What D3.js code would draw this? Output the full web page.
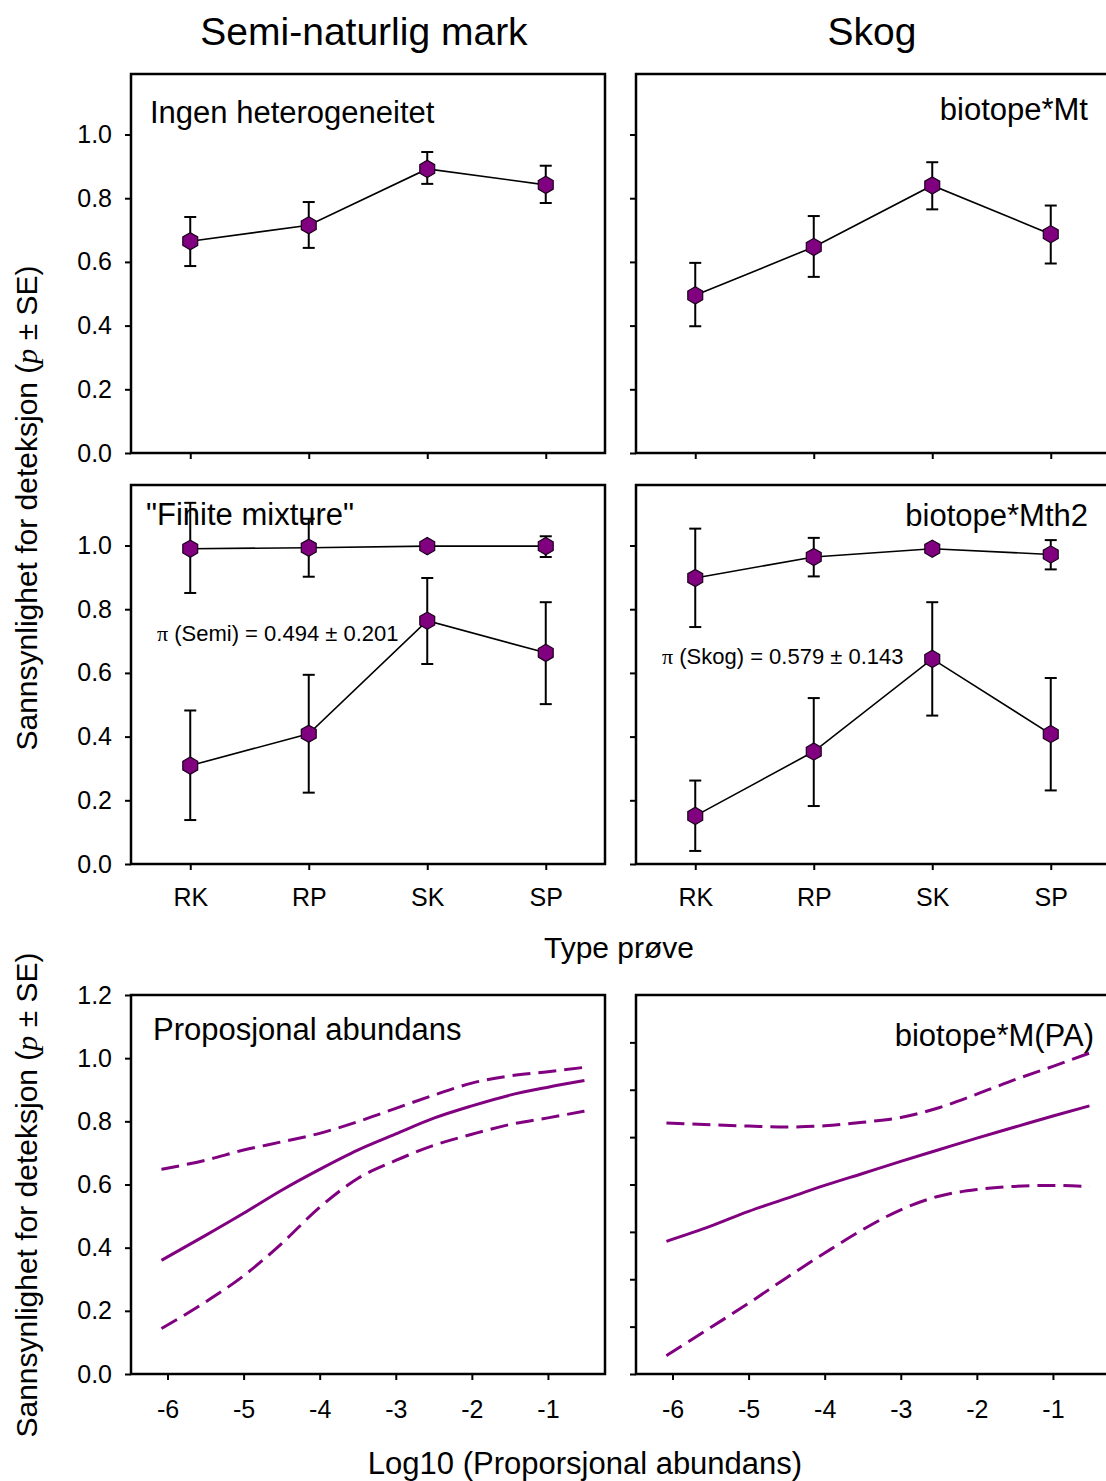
<!DOCTYPE html>
<html>
<head>
<meta charset="utf-8">
<script src="https://cdn.jsdelivr.net/npm/d3@7"></script>
<style>
  body { margin: 0; background: #fff; }
  svg { display: block; font-family: "Liberation Sans", Arial, sans-serif; }
</style>
</head>
<body>
<script>
// ---- data ----
var categories = ["RK", "RP", "SK", "SP"];

// top row: no heterogeneity model
var semiHetP  = [0.665, 0.715, 0.892, 0.842];
var semiHetLo = [0.587, 0.644, 0.845, 0.785];
var semiHetHi = [0.741, 0.788, 0.945, 0.902];
var skogMtP   = [0.495, 0.647, 0.840, 0.687];
var skogMtLo  = [0.398, 0.553, 0.765, 0.595];
var skogMtHi  = [0.597, 0.744, 0.913, 0.777];

// middle row: finite mixture, two groups each
var semiMixHighP  = [0.990, 0.993, 0.998, 0.998];
var semiMixHighLo = [0.851, 0.902, 0.993, 0.964];
var semiMixHighHi = [1.134, 1.084, 1.003, 1.029];
var semiMixLowP   = [0.309, 0.409, 0.764, 0.663];
var semiMixLowLo  = [0.138, 0.224, 0.628, 0.502];
var semiMixLowHi  = [0.482, 0.594, 0.898, 0.822];
var skogMixHighP  = [0.898, 0.964, 0.990, 0.972];
var skogMixHighLo = [0.744, 0.903, 0.986, 0.925];
var skogMixHighHi = [1.053, 1.024, 0.994, 1.017];
var skogMixLowP   = [0.151, 0.353, 0.644, 0.408];
var skogMixLowLo  = [0.041, 0.182, 0.466, 0.231];
var skogMixLowHi  = [0.262, 0.521, 0.822, 0.584];

var piSemi = "(Semi) = 0.494 \u00b1 0.201";
var piSkog = "(Skog) = 0.579 \u00b1 0.143";

// bottom row: proportional abundance curves
var logPA = [-6.08, -5.5, -5, -4.5, -4, -3.5, -3, -2.5, -2, -1.5, -1, -0.52];
var semiPA     = [0.360, 0.439, 0.509, 0.582, 0.648, 0.709, 0.760, 0.810, 0.849, 0.883, 0.908, 0.929];
var semiPAUp   = [0.648, 0.677, 0.709, 0.735, 0.762, 0.799, 0.841, 0.883, 0.921, 0.944, 0.957, 0.971];
var semiPALow  = [0.144, 0.228, 0.311, 0.413, 0.528, 0.619, 0.676, 0.724, 0.759, 0.790, 0.811, 0.832];
var skogPA     = [0.420, 0.468, 0.515, 0.556, 0.597, 0.635, 0.673, 0.710, 0.747, 0.782, 0.817, 0.849];
var skogPAUp   = [0.795, 0.789, 0.785, 0.782, 0.786, 0.797, 0.812, 0.843, 0.886, 0.932, 0.974, 1.016];
var skogPALow  = [0.058, 0.147, 0.224, 0.305, 0.383, 0.457, 0.520, 0.563, 0.584, 0.594, 0.597, 0.593];

var yTicks      = [0, 0.2, 0.4, 0.6, 0.8, 1.0];
var yTicksPA    = [0, 0.2, 0.4, 0.6, 0.8, 1.0, 1.2];
var yTicksPARight = [0, 0.15, 0.3, 0.45, 0.6, 0.75, 0.9, 1.05];
var xTicksPA    = [-6, -5, -4, -3, -2, -1];

// ---- layout ----
var W = 1106, H = 1481;
var colX = [131, 636];
var rowY = [74, 485, 995];
var pw = 474, ph = 379;
var purple = "#800080";

var svg = d3.select("body").append("svg")
  .attr("width", W)
  .attr("height", H);

function hexPath(r) {
  var pts = d3.range(6).map(function (i) {
    var a = Math.PI / 6 + i * Math.PI / 3;
    return [r * Math.cos(a), r * Math.sin(a)];
  });
  return "M" + pts.map(function (p) { return p[0].toFixed(2) + "," + p[1].toFixed(2); }).join("L") + "Z";
}

function styleAxis(g) {
  g.select(".domain").remove();
  g.selectAll(".tick line").attr("stroke", "#000").attr("stroke-width", 2);
  g.selectAll(".tick text").attr("fill", "#000").style("font-size", "25px")
    .style("font-family", "'Liberation Sans', Arial, sans-serif");
}

function box(g) {
  g.append("rect")
    .attr("x", 0).attr("y", 0)
    .attr("width", pw).attr("height", ph)
    .attr("fill", "none")
    .attr("stroke", "#000")
    .attr("stroke-width", 2.5);
}

function makePanel(col, row) {
  var x0 = colX[col], y0 = rowY[row];
  var g = svg.append("g").attr("transform", "translate(" + x0 + "," + y0 + ")");
  box(g);
  return g;
}

function panelLabel(g, text, anchor, x, y) {
  g.append("text")
    .attr("x", x).attr("y", y)
    .attr("text-anchor", anchor)
    .style("font-size", "31px")
    .attr("fill", "#000")
    .text(text);
}

function catPanel(col, row, series, label, labelRight, showYLabels, showXLabels) {
  var g = makePanel(col, row);
  var x = d3.scalePoint().domain(categories).range([0, pw]).padding(0.5);
  var y = d3.scaleLinear().domain([0, 1.19]).range([ph, 0]);

  var yAxis = d3.axisLeft(y).tickValues(yTicks).tickSize(6).tickPadding(13)
    .tickFormat(showYLabels ? d3.format(".1f") : function () { return ""; });
  g.append("g").call(yAxis).call(styleAxis);

  var xAxis = d3.axisBottom(x).tickSize(6).tickPadding(18)
    .tickFormat(showXLabels ? function (d) { return d; } : function () { return ""; });
  g.append("g").attr("transform", "translate(0," + ph + ")").call(xAxis).call(styleAxis);

  if (labelRight) panelLabel(g, label, "end", 1088 - colX[col], row === 0 ? 46 : 41);
  else panelLabel(g, label, "start", 150 - colX[col] + (row === 1 ? -4 : 0), row === 0 ? 49 : 40);

  series.forEach(function (s) {
    var pts = categories.map(function (c, i) {
      return { c: c, p: s.p[i], lo: s.lo[i], hi: s.hi[i] };
    });
    var line = d3.line()
      .x(function (d) { return x(d.c); })
      .y(function (d) { return y(d.p); });
    g.append("path").datum(pts)
      .attr("d", line)
      .attr("fill", "none")
      .attr("stroke", "#000")
      .attr("stroke-width", 1.6);

    var eb = g.append("g").selectAll("g").data(pts).enter().append("g")
      .attr("stroke", "#000").attr("stroke-width", 2);
    eb.append("line")
      .attr("x1", function (d) { return x(d.c); })
      .attr("x2", function (d) { return x(d.c); })
      .attr("y1", function (d) { return y(d.lo); })
      .attr("y2", function (d) { return y(d.hi); });
    eb.append("line")
      .attr("x1", function (d) { return x(d.c) - 6; })
      .attr("x2", function (d) { return x(d.c) + 6; })
      .attr("y1", function (d) { return y(d.lo); })
      .attr("y2", function (d) { return y(d.lo); });
    eb.append("line")
      .attr("x1", function (d) { return x(d.c) - 6; })
      .attr("x2", function (d) { return x(d.c) + 6; })
      .attr("y1", function (d) { return y(d.hi); })
      .attr("y2", function (d) { return y(d.hi); });

    g.append("g").selectAll("path").data(pts).enter().append("path")
      .attr("d", hexPath(8.6))
      .attr("transform", function (d) { return "translate(" + x(d.c) + "," + y(d.p) + ")"; })
      .attr("fill", purple)
      .attr("stroke", "#1a001a")
      .attr("stroke-width", 1.2);
  });
  return g;
}

function paPanel(col, mid, up, low, label, labelRight, showYLabels) {
  var g = makePanel(col, 2);
  var x = d3.scaleLinear().domain([-6.48, -0.25]).range([0, pw]);
  var y = d3.scaleLinear().domain([0, 1.2]).range([ph, 0]);

  var yAxis = d3.axisLeft(y).tickValues(showYLabels ? yTicksPA : yTicksPARight)
    .tickSize(6).tickPadding(13)
    .tickFormat(showYLabels ? d3.format(".1f") : function () { return ""; });
  g.append("g").call(yAxis).call(styleAxis);

  var xAxis = d3.axisBottom(x).tickValues(xTicksPA).tickSize(6).tickPadding(20)
    .tickFormat(function (d) { return String(d); });
  g.append("g").attr("transform", "translate(0," + ph + ")").call(xAxis).call(styleAxis);

  if (labelRight) panelLabel(g, label, "end", 1094 - colX[col], 51);
  else panelLabel(g, label, "start", 153 - colX[col], 45);

  var line = d3.line()
    .x(function (d) { return x(d[0]); })
    .y(function (d) { return y(d[1]); })
    .curve(d3.curveMonotoneX);

  [[mid, null], [up, "18,8"], [low, "18,8"]].forEach(function (s) {
    g.append("path")
      .datum(logPA.map(function (v, i) { return [v, s[0][i]]; }))
      .attr("d", line)
      .attr("fill", "none")
      .attr("stroke", purple)
      .attr("stroke-width", 3)
      .attr("stroke-dasharray", s[1]);
  });
  return g;
}

// panels
var tl = catPanel(0, 0, [{ p: semiHetP, lo: semiHetLo, hi: semiHetHi }],
  "Ingen heterogeneitet", false, true, false);
var tr = catPanel(1, 0, [{ p: skogMtP, lo: skogMtLo, hi: skogMtHi }],
  "biotope*Mt", true, false, false);
var ml = catPanel(0, 1, [
    { p: semiMixHighP, lo: semiMixHighLo, hi: semiMixHighHi },
    { p: semiMixLowP, lo: semiMixLowLo, hi: semiMixLowHi }],
  "\"Finite mixture\"", false, true, true);
var mr = catPanel(1, 1, [
    { p: skogMixHighP, lo: skogMixHighLo, hi: skogMixHighHi },
    { p: skogMixLowP, lo: skogMixLowLo, hi: skogMixLowHi }],
  "biotope*Mth2", true, false, true);

// pi annotations
function piText(g, x, y, txt) {
  var t = g.append("text").attr("x", x).attr("y", y)
    .style("font-size", "22px").attr("fill", "#000");
  t.append("tspan").style("font-family", "'Liberation Serif', 'Times New Roman', serif").text("\u03c0");
  t.append("tspan").text(" " + txt);
}
piText(ml, 157 - colX[0], 641 - rowY[1], piSemi);
piText(mr, 662 - colX[1], 664 - rowY[1], piSkog);

paPanel(0, semiPA, semiPAUp, semiPALow, "Proposjonal abundans", false, true);
paPanel(1, skogPA, skogPAUp, skogPALow, "biotope*M(PA)", true, false);

// column titles
svg.append("text").attr("x", 364).attr("y", 45).attr("text-anchor", "middle")
  .style("font-size", "39px").text("Semi-naturlig mark");
svg.append("text").attr("x", 872).attr("y", 45).attr("text-anchor", "middle")
  .style("font-size", "39px").text("Skog");

// axis titles
svg.append("text").attr("x", 619).attr("y", 958).attr("text-anchor", "middle")
  .style("font-size", "30px").text("Type pr\u00f8ve");
svg.append("text").attr("x", 585).attr("y", 1474).attr("text-anchor", "middle")
  .style("font-size", "31px").text("Log10 (Proporsjonal abundans)");

function yTitle(cy) {
  var t = svg.append("text")
    .attr("transform", "translate(37," + cy + ") rotate(-90)")
    .attr("text-anchor", "middle")
    .style("font-size", "30px");
  t.append("tspan").text("Sannsynlighet for deteksjon (");
  t.append("tspan").style("font-family", "'Liberation Serif', 'Times New Roman', serif")
    .style("font-style", "italic").text("p");
  t.append("tspan").text(" \u00b1 SE)");
}
yTitle(508);
yTitle(1195);
</script>
</body>
</html>
